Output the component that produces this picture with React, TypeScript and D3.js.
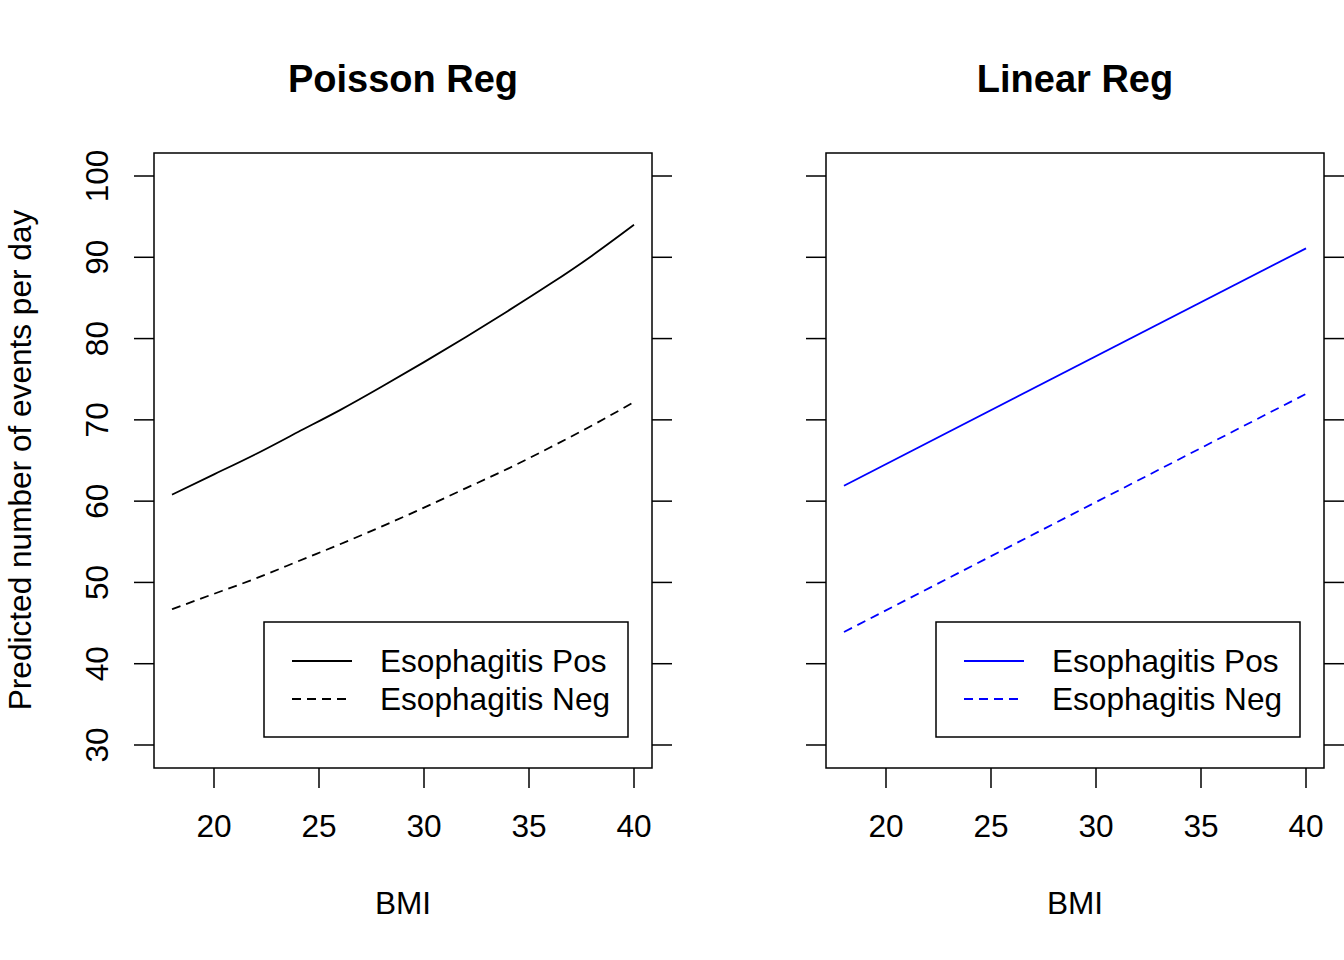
import React from 'react';
import * as d3 from 'd3';

// BMI grid used for the fitted curves
const bmi = [18, 20, 22, 24, 26, 28, 30, 32, 34, 36, 38, 40];
// Poisson regression predictions
const poissonPos = [60.8, 63.3, 65.8, 68.5, 71.2, 74.1, 77.1, 80.2, 83.4, 86.7, 90.2, 94.0];
const poissonNeg = [46.7, 48.6, 50.5, 52.6, 54.7, 56.9, 59.2, 61.6, 64.0, 66.6, 69.3, 72.2];
// Linear regression predictions at the ends of the range
const linearBmi = [18, 40];
const linearPos = [61.9, 91.1];
const linearNeg = [43.9, 73.2];

const xTicks = [20, 25, 30, 35, 40];
const yTicks = [30, 40, 50, 60, 70, 80, 90, 100];
const legendLabels = ['Esophagitis Pos', 'Esophagitis Neg'];

const FONT = '"Liberation Sans", Arial, Helvetica, sans-serif';
const FS = 31.6;

interface PanelProps {
  left: number;
  title: string;
  xs: number[];
  pos: number[];
  neg: number[];
  color: string;
  showYLabels: boolean;
}

const top = 153;
const bottom = 768;
const plotW = 498;

const Panel: React.FC<PanelProps> = ({ left, title, xs, pos, neg, color, showYLabels }) => {
  const right = left + plotW;
  const x = d3.scaleLinear().domain([17.143, 40.857]).range([left, right]);
  const y = d3.scaleLinear().domain([27.17, 102.83]).range([bottom, top]);

  const line = d3.line<number>()
    .x((_, i) => x(xs[i]))
    .y(d => y(d))
    .curve(d3.curveNatural);

  const lgX = left + 110;
  const lgY = 622;
  const rows = [661, 699];
  const dash = '9,6';

  return (
    <g fontFamily={FONT}>
      <text x={(left + right) / 2} y={92} textAnchor="middle" fontWeight="bold" fontSize={38}>{title}</text>
      <rect x={left} y={top} width={plotW} height={bottom - top} fill="none" stroke="#000" strokeWidth={1.5} />
      {yTicks.map(t => (
        <g key={t}>
          <line x1={left - 20} x2={left} y1={y(t)} y2={y(t)} stroke="#000" strokeWidth={1.5} />
          <line x1={right} x2={right + 20} y1={y(t)} y2={y(t)} stroke="#000" strokeWidth={1.5} />
          {showYLabels && (
            <text transform={`translate(${left - 46},${y(t)}) rotate(-90)`} textAnchor="middle" fontSize={FS}>{t}</text>
          )}
        </g>
      ))}
      {xTicks.map(t => (
        <g key={t}>
          <line x1={x(t)} x2={x(t)} y1={bottom} y2={bottom + 20} stroke="#000" strokeWidth={1.5} />
          <text x={x(t)} y={837} textAnchor="middle" fontSize={FS}>{t}</text>
        </g>
      ))}
      <text x={(left + right) / 2} y={914} textAnchor="middle" fontSize={FS}>BMI</text>
      <path d={line(pos) || ''} fill="none" stroke={color} strokeWidth={1.8} />
      <path d={line(neg) || ''} fill="none" stroke={color} strokeWidth={1.8} strokeDasharray={dash} />
      <rect x={lgX} y={lgY} width={364} height={115} fill="#fff" stroke="#000" strokeWidth={1.5} />
      {legendLabels.map((lab, i) => (
        <g key={lab}>
          <line x1={lgX + 28} x2={lgX + 88} y1={rows[i]} y2={rows[i]} stroke={color} strokeWidth={1.8}
            strokeDasharray={i === 1 ? dash : undefined} />
          <text x={lgX + 116} y={rows[i] + 11} fontSize={FS}>{lab}</text>
        </g>
      ))}
    </g>
  );
};

export default function App() {
  return (
    <svg width={1344} height={960} style={{ position: 'absolute', left: 0, top: 0, background: '#fff' }}>
      <rect width={1344} height={960} fill="#fff" />
      <text transform="translate(31,460) rotate(-90)" textAnchor="middle" fontSize={FS} fontFamily={FONT}>
        Predicted number of events per day
      </text>
      <Panel left={154} title="Poisson Reg" xs={bmi} pos={poissonPos} neg={poissonNeg} color="#000" showYLabels />
      <Panel left={826} title="Linear Reg" xs={linearBmi} pos={linearPos} neg={linearNeg} color="#0000ff" showYLabels={false} />
    </svg>
  );
}
